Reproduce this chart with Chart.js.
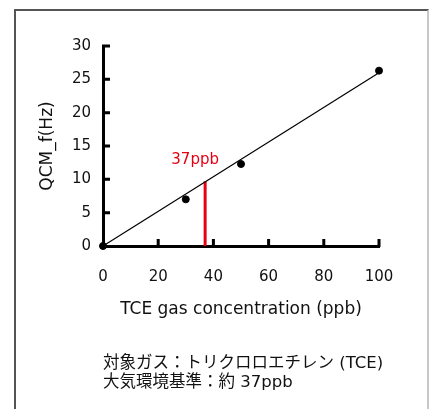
<!DOCTYPE html>
<html>
<head>
<meta charset="utf-8">
<script src="https://cdn.jsdelivr.net/npm/chart.js@4.4.1/dist/chart.umd.min.js"></script>
<style>
    body { margin: 0; background: #fff; }
    #wrap { position: relative; width: 429px; height: 409px; overflow: hidden; }
    #frame {
        position: absolute; left: 14px; top: 9px; width: 411px; height: 420px;
        border-left: 2px solid #555; border-top: 2px solid #555; border-right: 2px solid #c8c8c8;
    }
    #chart { position: absolute; left: 0; top: 0; }
    .note {
        position: absolute; left: 103px; font-family: 'DejaVu Sans', 'Noto Sans CJK JP', sans-serif;
        font-size: 16.5px; color: #111; line-height: 19px; white-space: nowrap;
    }
</style>
</head>
<body>
<div id="wrap">
    <div id="frame"></div>
    <canvas id="chart" width="429" height="409"></canvas>
    <div class="note" style="top:353px">対象ガス：トリクロロエチレン (TCE)</div>
    <div class="note" style="top:372px">大気環境基準：約 37ppb</div>
</div>
<script>
// measured points
const concentration = [0, 30, 50, 100];
const frequency = [0, 7.0, 12.3, 26.3];

// fitted line ends
const fitX = [0, 100];
const fitY = [0, 26.0];

// environmental standard marker
const standardX = [37, 37];
const standardY = [0, 9.7];
const standardLabel = '37ppb';

const xTicks = [0, 20, 40, 60, 80, 100];
const yTicks = [0, 5, 10, 15, 20, 25, 30];

const font = 'DejaVu Sans, Noto Sans CJK JP, sans-serif';

function toXY(xs, ys) {
    return xs.map((x, i) => ({ x: x, y: ys[i] }));
}

// inward tick marks and the red label
const axisDecor = {
    id: 'axisDecor',
    afterDatasetsDraw(chart) {
        const c = chart.ctx;
        const xs = chart.scales.x;
        const ys = chart.scales.y;
        const left = xs.getPixelForValue(0);
        const bottom = ys.getPixelForValue(0);
        c.save();
        c.strokeStyle = '#000';
        c.lineWidth = 3;
        c.lineCap = 'butt';
        c.beginPath();
        xTicks.slice(1).forEach(v => {
            const px = xs.getPixelForValue(v);
            c.moveTo(px, bottom + 1);
            c.lineTo(px, bottom - 7);
        });
        yTicks.slice(1).forEach(v => {
            const py = ys.getPixelForValue(v);
            c.moveTo(left - 1, py);
            c.lineTo(left + 7, py);
        });
        c.stroke();

        c.fillStyle = '#e60012';
        c.font = '15px ' + font;
        c.textAlign = 'center';
        c.textBaseline = 'middle';
        c.fillText(standardLabel, xs.getPixelForValue(standardX[0]) - 10, ys.getPixelForValue(standardY[1]) - 21);
        c.restore();
    }
};

new Chart(document.getElementById('chart'), {
    type: 'scatter',
    data: {
        datasets: [
            {
                type: 'line',
                data: toXY(fitX, fitY),
                borderColor: '#000',
                borderWidth: 1.2,
                pointRadius: 0,
                fill: false,
                clip: false
            },
            {
                type: 'line',
                data: toXY(standardX, standardY),
                borderColor: '#e60012',
                borderWidth: 3,
                pointRadius: 0,
                fill: false,
                clip: false
            },
            {
                data: toXY(concentration, frequency),
                backgroundColor: '#000',
                borderColor: '#000',
                pointRadius: 3.5,
                clip: false
            }
        ]
    },
    plugins: [axisDecor],
    options: {
        responsive: false,
        animation: false,
        layout: { padding: { left: 0, right: 50, top: 46, bottom: 0 } },
        plugins: {
            legend: { display: false },
            tooltip: { enabled: false }
        },
        scales: {
            x: {
                type: 'linear',
                min: 0,
                max: 100,
                afterBuildTicks: s => { s.ticks = xTicks.map(v => ({ value: v })); },
                afterFit: s => { s.height = 163; },
                border: { display: true, color: '#000', width: 3 },
                grid: { display: false, drawTicks: false },
                ticks: {
                    padding: 22,
                    color: '#111',
                    font: { family: font, size: 15 }
                },
                title: {
                    display: true,
                    text: 'TCE gas concentration (ppb)',
                    color: '#111',
                    font: { family: font, size: 17 },
                    padding: { top: 0, bottom: 89 }
                }
            },
            y: {
                type: 'linear',
                min: 0,
                max: 30,
                afterBuildTicks: s => { s.ticks = yTicks.map(v => ({ value: v })); },
                afterFit: s => { s.width = 103; },
                border: { display: true, color: '#000', width: 3 },
                grid: { display: false, drawTicks: false },
                ticks: {
                    padding: 12,
                    color: '#111',
                    font: { family: font, size: 15 }
                },
                title: {
                    display: true,
                    text: 'QCM_f(Hz)',
                    color: '#111',
                    font: { family: font, size: 17 },
                    padding: { top: 37, bottom: 0 }
                }
            }
        }
    }
});
</script>
</body>
</html>
